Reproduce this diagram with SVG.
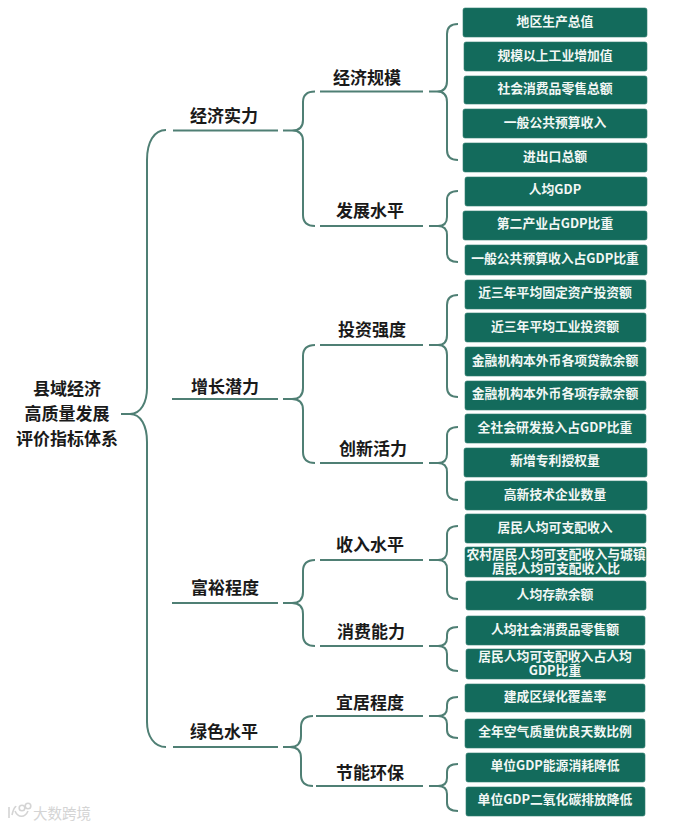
<svg xmlns="http://www.w3.org/2000/svg" width="678" height="826" viewBox="0 0 678 826">
<style>
text{font-family:"Noto Sans CJK SC","Noto Sans",sans-serif;font-weight:700;text-anchor:middle;dominant-baseline:central;transform:translateY(-1.500px)}
.b{fill:#136b5c;stroke:#2f7c6e;stroke-width:.6}
.t{fill:#f2f7f5;font-size:12.8px}
.h{fill:#1a1a1a;font-size:17px}
.c{fill:none;stroke:#4f7f74;stroke-width:2}
.w{fill:#d4d4d4;font-size:14.500px;font-weight:400}
.wl{fill:none;stroke:#d4d4d4;stroke-width:1.6}
</style>
<rect width="678" height="826" fill="#fff"/>
<g id="connectors" class="c">
<path d="M121 414H130C141 414 147 402 147 388V160C147 142 154 130 166 130M130 414C141 414 147 426 147 442V722C147 736 154 747 166 747"/>
<path d="M173 130.500H278M172 399H278M172 603H278M173 747H278"/>
<path d="M283 130.500H292Q303 130.500 303 120V102Q303 91.500 315 91.500M292 130.500Q303 130.500 303 141V215Q303 226 315 226"/>
<path d="M283 399H292Q303 399 303 388V356Q303 345 315 345M292 399Q303 399 303 410V452Q303 463 315 463"/>
<path d="M283 603H292Q303 603 303 592V571Q303 560 315 560M292 603Q303 603 303 614V635Q303 646 315 646"/>
<path d="M283 747H290Q301 747 301 736V727Q301 716 313 716M290 747Q301 747 301 758V775Q301 786 313 786"/>
<path d="M320 91.500H423M320 226H423M320 345H423M320 463H423M320 560H423M320 646H423M316 716H423M316 786H423"/>
<path d="M429 91.500H437Q447 91.500 447 81V34Q447 24 458 24M437 91.500Q447 91.500 447 102V150Q447 160 458 160"/>
<path d="M429 226H438Q447 226 447 217V200Q447 191 458 191M438 226Q447 226 447 235V253Q447 262 458 262"/>
<path d="M429 345H438Q447 345 447 335V305Q447 295 458 295M438 345Q447 345 447 355V387Q447 397 458 397"/>
<path d="M429 463H438Q447 463 447 454V436Q447 427 458 427M438 463Q447 463 447 472V491Q447 500 458 500"/>
<path d="M429 560H438Q447 560 447 551V535Q447 526 458 526M438 560Q447 560 447 569V590Q447 599 458 599"/>
<path d="M429 646H438Q447 646 447 638V635Q447 627 458 627M438 646Q447 646 447 654V663Q447 671 458 671"/>
<path d="M429 716H438Q447 716 447 708V705Q447 697 458 697M438 716Q447 716 447 724V730Q447 738 458 738"/>
<path d="M429 786H438Q447 786 447 778V772Q447 764 458 764M438 786Q447 786 447 794V803Q447 811 458 811"/>
</g>
<g id="root"><text class="h" x="67" y="389">县域经济</text><text class="h" x="67" y="414">高质量发展</text><text class="h" x="67" y="439">评价指标体系</text></g>
<g id="l1-1"><text class="h" x="224" y="116">经济实力</text></g>
<g id="l1-2"><text class="h" x="225" y="387">增长潜力</text></g>
<g id="l1-3"><text class="h" x="225" y="588">富裕程度</text></g>
<g id="l1-4"><text class="h" x="224" y="732">绿色水平</text></g>
<g id="l2-1"><text class="h" x="367" y="78">经济规模</text></g>
<g id="l2-2"><text class="h" x="370" y="211">发展水平</text></g>
<g id="l2-3"><text class="h" x="372" y="330">投资强度</text></g>
<g id="l2-4"><text class="h" x="373" y="449">创新活力</text></g>
<g id="l2-5"><text class="h" x="370" y="545">收入水平</text></g>
<g id="l2-6"><text class="h" x="371" y="632">消费能力</text></g>
<g id="l2-7"><text class="h" x="370" y="703">宜居程度</text></g>
<g id="l2-8"><text class="h" x="370" y="773">节能环保</text></g>
<g id="n1"><rect class="b" x="463" y="8" width="184" height="29" rx="2"/><text class="t" x="555" y="21.500">地区生产总值</text></g>
<g id="n2"><rect class="b" x="464" y="42" width="183" height="29" rx="2"/><text class="t" x="555" y="55.500">规模以上工业增加值</text></g>
<g id="n3"><rect class="b" x="464" y="76" width="183" height="28" rx="2"/><text class="t" x="555" y="89">社会消费品零售总额</text></g>
<g id="n4"><rect class="b" x="463" y="109" width="184" height="29" rx="2"/><text class="t" x="555" y="122.500">一般公共预算收入</text></g>
<g id="n5"><rect class="b" x="463" y="143" width="184" height="29" rx="2"/><text class="t" x="555" y="157">进出口总额</text></g>
<g id="n6"><rect class="b" x="465" y="177" width="182" height="29" rx="2"/><text class="t" x="555" y="190">人均GDP</text></g>
<g id="n7"><rect class="b" x="463" y="211" width="184" height="29" rx="2"/><text class="t" x="555" y="224">第二产业占GDP比重</text></g>
<g id="n8"><rect class="b" x="465" y="245" width="182" height="30" rx="2"/><text class="t" x="555" y="259">一般公共预算收入占GDP比重</text></g>
<g id="n9"><rect class="b" x="465" y="280" width="181" height="29" rx="2"/><text class="t" x="555" y="293">近三年平均固定资产投资额</text></g>
<g id="n10"><rect class="b" x="465" y="313" width="181" height="29" rx="2"/><text class="t" x="555" y="327">近三年平均工业投资额</text></g>
<g id="n11"><rect class="b" x="465" y="347" width="181" height="29" rx="2"/><text class="t" x="555" y="361">金融机构本外币各项贷款余额</text></g>
<g id="n12"><rect class="b" x="465" y="381" width="181" height="29" rx="2"/><text class="t" x="555" y="394">金融机构本外币各项存款余额</text></g>
<g id="n13"><rect class="b" x="465" y="414" width="181" height="29" rx="2"/><text class="t" x="555" y="428">全社会研发投入占GDP比重</text></g>
<g id="n14"><rect class="b" x="464" y="448" width="183" height="29" rx="2"/><text class="t" x="555" y="461">新增专利授权量</text></g>
<g id="n15"><rect class="b" x="465" y="481" width="182" height="29" rx="2"/><text class="t" x="555" y="495">高新技术企业数量</text></g>
<g id="n16"><rect class="b" x="465" y="514" width="181" height="29" rx="2"/><text class="t" x="555" y="528">居民人均可支配收入</text></g>
<g id="n17"><rect class="b" x="465" y="547" width="181" height="30" rx="2"/><text class="t" y="554"><tspan x="556">农村居民人均可支配收入与城镇</tspan><tspan x="556" dy="14">居民人均可支配收入比</tspan></text></g>
<g id="n18"><rect class="b" x="466" y="581" width="180" height="29" rx="2"/><text class="t" x="555" y="595">人均存款余额</text></g>
<g id="n19"><rect class="b" x="466" y="616" width="179" height="29" rx="2"/><text class="t" x="555" y="630">人均社会消费品零售额</text></g>
<g id="n20"><rect class="b" x="466" y="649" width="179" height="30" rx="2"/><text class="t" y="656"><tspan x="555">居民人均可支配收入占人均</tspan><tspan x="555" dy="14">GDP比重</tspan></text></g>
<g id="n21"><rect class="b" x="465" y="684" width="180" height="28" rx="2"/><text class="t" x="555" y="697">建成区绿化覆盖率</text></g>
<g id="n22"><rect class="b" x="465" y="719" width="180" height="29" rx="2"/><text class="t" x="555" y="732">全年空气质量优良天数比例</text></g>
<g id="n23"><rect class="b" x="466" y="753" width="179" height="29" rx="2"/><text class="t" x="555" y="766">单位GDP能源消耗降低</text></g>
<g id="n24"><rect class="b" x="466" y="787" width="179" height="29" rx="2"/><text class="t" x="555" y="800">单位GDP二氧化碳排放降低</text></g>
<g id="watermark"><path class="wl" d="M9 807V818M12 815C14 806 15 808 16 806M15 811C18 818 25 818 28 811"/><circle class="wl" cx="22" cy="808" r="2.800"/><circle class="wl" cx="28" cy="806" r="2.800"/><text class="w" x="62" y="813.500">大数跨境</text></g>
</svg>
